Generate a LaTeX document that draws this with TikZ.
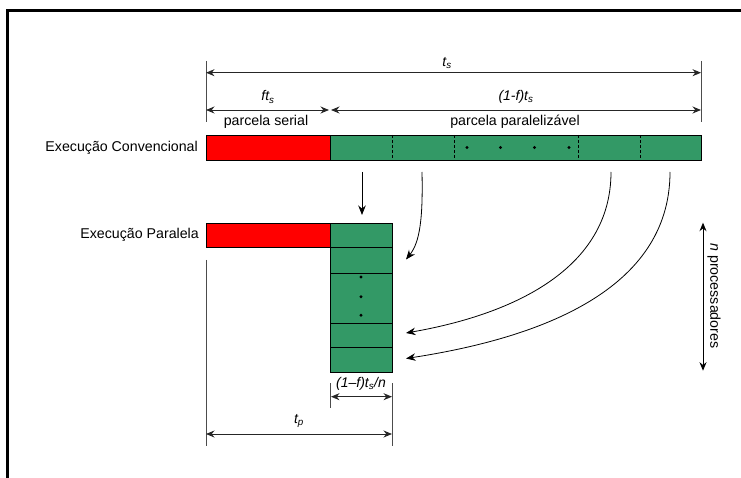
\documentclass[tikz,border=0pt]{standalone}
\usepackage{fontspec}
\setmainfont{Liberation Sans}
\usetikzlibrary{arrows.meta}
\definecolor{pgreen}{RGB}{51,153,102}
\definecolor{pred}{RGB}{255,0,0}
\tikzset{
  txt/.style={font=\fontsize{14.2}{16}\selectfont, inner sep=0pt},
  itxt/.style={font=\fontsize{14}{16}\selectfont\itshape, inner sep=0pt},
  serialbox/.style={draw=black, line width=0.6pt, fill=pred, minimum width=124pt, minimum height=24.6pt, inner sep=0pt, anchor=north west},
  parbox/.style={draw=black, line width=0.6pt, fill=pgreen, inner sep=0pt, anchor=north west},
  dimline/.style={draw=black!85, line width=0.9pt, {Stealth[length=8.5pt,width=7pt]}-{Stealth[length=8.5pt,width=7pt]}},
  extline/.style={draw=black!70, line width=0.6pt},
  flow/.style={draw=black, line width=0.8pt, -{Stealth[length=9.5pt,width=7.5pt]}},
  divider/.style={draw=black, line width=0.6pt, dashed, dash pattern=on 3pt off 2pt},
  dotmark/.style={circle, fill=black, inner sep=0pt, minimum size=3.3pt},
}
\begin{document}
\begin{tikzpicture}[x=1pt,y=-1pt]
\useasboundingbox (0,0) rectangle (741,478);
% frame
\draw[line width=3.5pt] (7.5,478) -- (7.5,10.5) -- (741,10.5);

% conventional execution
\node[serialbox] (serC) at (206,135) {};
\node[parbox, minimum width=371pt, minimum height=25pt] (parC) at (330,135) {};
\foreach \x/\n in {392/d1,454/d2,578/d3,640/d4}{
  \coordinate (\n t) at (\x,135); \coordinate (\n b) at (\x,160);
  \draw[divider] (\n t) -- (\n b);
}
\foreach \x/\n in {467/p1,500.5/p2,534.5/p3,569/p4}{
  \node[dotmark] (\n) at (\x,147.5) {};
}
\node[txt, anchor=east] (lblC) at (198,147.5) {Execução Convencional};

% dimension lines top
\coordinate (eA1) at (206,61); \coordinate (eA2) at (206,122);
\coordinate (eB1) at (701,61); \coordinate (eB2) at (701,122);
\draw[extline] (eA1) -- (eA2);
\draw[extline] (eB1) -- (eB2);
\coordinate (ts1) at (206,72.7); \coordinate (ts2) at (701,72.7);
\draw[dimline] (ts1) -- (ts2);
\node[itxt] (tslbl) at (447,63) {t\textsubscript{s}};
\coordinate (fs1) at (206,110); \coordinate (fs2) at (329,110);
\coordinate (ps1) at (331,110); \coordinate (ps2) at (701,110);
\draw[dimline] (fs1) -- (fs2);
\draw[dimline] (ps1) -- (ps2);
\node[itxt] (fslbl) at (268,97) {ft\textsubscript{s}};
\node[itxt] (pslbl) at (516,97) {(1-f)t\textsubscript{s}};
\node[txt] (serlbl) at (266,122) {parcela serial};
\node[txt] (parlbl) at (515,122) {parcela paralelizável};

% parallel execution
\node[serialbox] (serP) at (206,222.7) {};
\node[parbox, minimum width=62pt, minimum height=24.6pt] (q1) at (330,222.7) {};
\node[parbox, minimum width=62pt, minimum height=25.4pt] (q2) at (330,247.3) {};
\node[parbox, minimum width=62pt, minimum height=50pt] (q3) at (330,272.7) {};
\node[parbox, minimum width=62pt, minimum height=24pt] (q4) at (330,322.7) {};
\node[parbox, minimum width=62pt, minimum height=25pt] (q5) at (330,346.7) {};
\foreach \y/\n in {277/v1,296.7/v2,315.3/v3}{
  \node[dotmark] (\n) at (361,\y) {};
}
\node[txt, anchor=east] (lblP) at (199,235) {Execução Paralela};

% flow arrows
\coordinate (s0) at (362,172); \coordinate (e0) at (362,215);
\draw[flow] (s0) -- (e0);
\coordinate (s1) at (422,172); \coordinate (e1) at (406,259.5);
\draw[flow] (s1) .. controls (423,218) and (420,242) .. (e1);
\coordinate (s2) at (611,172); \coordinate (e2) at (406,333);
\draw[flow] (s2) .. controls (611,268) and (515,314) .. (e2);
\coordinate (s3) at (670,172); \coordinate (e3) at (406,358.5);
\draw[flow] (s3) .. controls (670,290) and (540,338) .. (e3);

% n processadores
\coordinate (n1) at (703,222.7); \coordinate (n2) at (703,370.7);
\draw[dimline, draw=black] (n1) -- (n2);
\node[txt, rotate=-90] (nlbl) at (714,296) {\textit{n} processadores};

% bottom dimensions
\coordinate (l1) at (206,260); \coordinate (l2) at (206,446);
\draw[extline] (l1) -- (l2);
\coordinate (r1) at (392,383); \coordinate (r2) at (392,446);
\draw[extline] (r1) -- (r2);
\coordinate (m1) at (330.7,383); \coordinate (m2) at (330.7,408);
\draw[extline] (m1) -- (m2);
\coordinate (tn1) at (331,396.7); \coordinate (tn2) at (392,396.7);
\draw[dimline] (tn1) -- (tn2);
\node[itxt] (tnlbl) at (361,384) {(1–f)t\textsubscript{s}/n};
\coordinate (tp1) at (206,434); \coordinate (tp2) at (392,434);
\draw[dimline] (tp1) -- (tp2);
\node[itxt] (tplbl) at (299,421) {t\textsubscript{p}};
\end{tikzpicture}
\end{document}
